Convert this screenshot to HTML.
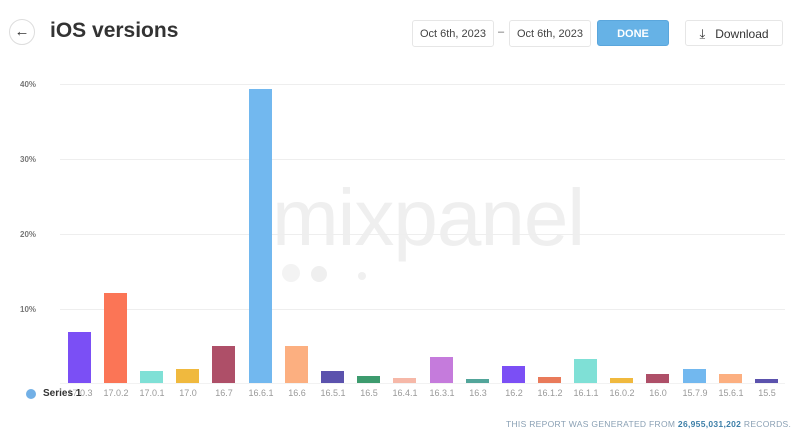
<!DOCTYPE html>
<html><head><meta charset="utf-8"><style>
body{margin:0;width:800px;height:441px;background:#fff;overflow:hidden;font-family:"Liberation Sans",sans-serif;position:relative}
.a{position:absolute;white-space:nowrap}
.box{position:absolute;border:1px solid #e6e6e6;border-radius:3px;box-sizing:border-box;font-size:11px;color:#444;text-align:center;line-height:26px;background:#fff;white-space:nowrap}
.grid{position:absolute;left:60px;width:725px;height:1px;background:#eeeeee}
.yl{position:absolute;left:20px;font-size:8px;color:#777;font-weight:bold;width:25px;text-align:left}
.bar{position:absolute;width:23px}
.xl{position:absolute;top:388px;font-size:9px;color:#999;width:40px;text-align:center}
</style></head><body>
<div class="a" style="left:9px;top:19px;width:26px;height:26px;border:1px solid #ddd;border-radius:50%;box-sizing:border-box;text-align:center;line-height:23px;font-size:15px;color:#333">←</div>
<div class="a" style="left:50px;top:19px;font-size:21px;font-weight:bold;color:#333">iOS versions</div>
<div class="box" style="left:412px;top:20px;width:82px;height:27px">Oct 6th, 2023</div>
<div class="a" style="left:498px;top:26px;font-size:11px;color:#666">–</div>
<div class="box" style="left:509px;top:20px;width:82px;height:27px">Oct 6th, 2023</div>
<div class="box" style="left:597px;top:20px;width:72px;height:26px;background:#66b2e6;border-color:#5aa6dc;color:#fff;font-weight:bold">DONE</div>
<div class="box" style="left:685px;top:20px;width:98px;height:26px;font-size:12px;color:#333"><span style="font-size:13px;margin-right:10px">⤓</span>Download</div>
<div class="a" style="left:272px;top:172px;font-size:80px;color:#efefef;letter-spacing:-1px">mixpanel</div>
<div class="a" style="left:282px;top:264px;width:18px;height:18px;border-radius:50%;background:#f3f3f3"></div>
<div class="a" style="left:311px;top:266px;width:16px;height:16px;border-radius:50%;background:#efefef"></div>
<div class="a" style="left:358px;top:272px;width:8px;height:8px;border-radius:50%;background:#f0f0f0"></div>
<div class="grid" style="top:84px"></div><div class="yl" style="top:80px">40%</div>
<div class="grid" style="top:159px"></div><div class="yl" style="top:155px">30%</div>
<div class="grid" style="top:234px"></div><div class="yl" style="top:230px">20%</div>
<div class="grid" style="top:309px"></div><div class="yl" style="top:305px">10%</div>
<div class="grid" style="top:383px;background:#f2f2f2"></div>
<div class="bar" style="left:68px;top:332px;height:51px;background:#7b4ff5"></div>
<div class="bar" style="left:104px;top:293px;height:90px;background:#fb7556"></div>
<div class="bar" style="left:140px;top:371px;height:12px;background:#7fe0d6"></div>
<div class="bar" style="left:176px;top:369px;height:14px;background:#f0b93e"></div>
<div class="bar" style="left:212px;top:346px;height:37px;background:#ae4f68"></div>
<div class="bar" style="left:249px;top:89px;height:294px;background:#72b8ef"></div>
<div class="bar" style="left:285px;top:346px;height:37px;background:#fcaf80"></div>
<div class="bar" style="left:321px;top:371px;height:12px;background:#5b52ad"></div>
<div class="bar" style="left:357px;top:376px;height:7px;background:#3d9b6e"></div>
<div class="bar" style="left:393px;top:378px;height:5px;background:#f6b8a8"></div>
<div class="bar" style="left:430px;top:357px;height:26px;background:#c57bdc"></div>
<div class="bar" style="left:466px;top:379px;height:4px;background:#52a59a"></div>
<div class="bar" style="left:502px;top:366px;height:17px;background:#7b4ff5"></div>
<div class="bar" style="left:538px;top:377px;height:6px;background:#e97a5a"></div>
<div class="bar" style="left:574px;top:359px;height:24px;background:#7fe0d6"></div>
<div class="bar" style="left:610px;top:378px;height:5px;background:#f0b93e"></div>
<div class="bar" style="left:646px;top:374px;height:9px;background:#ae4f68"></div>
<div class="bar" style="left:683px;top:369px;height:14px;background:#72b8ef"></div>
<div class="bar" style="left:719px;top:374px;height:9px;background:#fcaf80"></div>
<div class="bar" style="left:755px;top:379px;height:4px;background:#5b52ad"></div>
<div class="xl" style="left:60px">17.0.3</div><div class="xl" style="left:96px">17.0.2</div><div class="xl" style="left:132px">17.0.1</div><div class="xl" style="left:168px">17.0</div><div class="xl" style="left:204px">16.7</div><div class="xl" style="left:241px">16.6.1</div><div class="xl" style="left:277px">16.6</div><div class="xl" style="left:313px">16.5.1</div><div class="xl" style="left:349px">16.5</div><div class="xl" style="left:385px">16.4.1</div><div class="xl" style="left:422px">16.3.1</div><div class="xl" style="left:458px">16.3</div><div class="xl" style="left:494px">16.2</div><div class="xl" style="left:530px">16.1.2</div><div class="xl" style="left:566px">16.1.1</div><div class="xl" style="left:602px">16.0.2</div><div class="xl" style="left:638px">16.0</div><div class="xl" style="left:675px">15.7.9</div><div class="xl" style="left:711px">15.6.1</div><div class="xl" style="left:747px">15.5</div>
<div class="a" style="left:26px;top:389px;width:10px;height:10px;border-radius:50%;background:#72b0e6"></div>
<div class="a" style="left:43px;top:388px;font-size:10px;font-weight:bold;color:#333;background:rgba(255,255,255,0.3)">Series 1</div>
<div class="a" style="left:506px;top:419px;font-size:8.5px;color:#8aa0b4;letter-spacing:0.3px">THIS REPORT WAS GENERATED FROM <b style="color:#3d7fa8">26,955,031,202</b> RECORDS.</div>
</body></html>
